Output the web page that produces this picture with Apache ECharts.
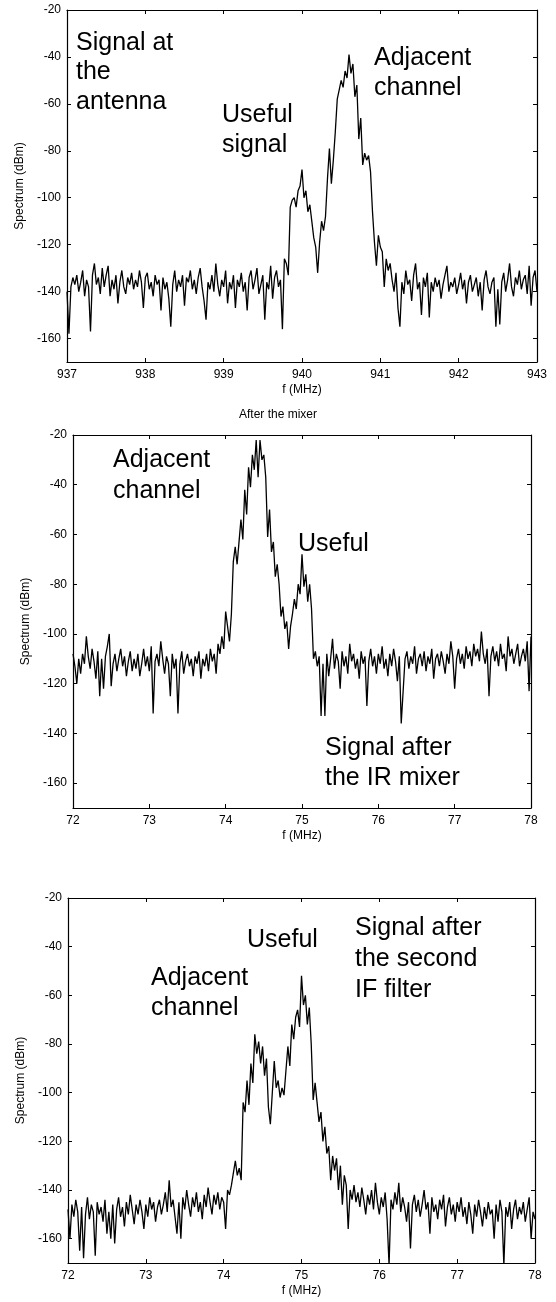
<!DOCTYPE html>
<html><head><meta charset="utf-8">
<script src="https://cdn.jsdelivr.net/npm/echarts@6/dist/echarts.min.js"></script>
<style>html,body{margin:0;padding:0;background:#fff}#c{width:556px;height:1302px}</style>
</head><body><div id="c"></div>
<script>
const FONT = '"Liberation Sans", Arial, Helvetica, sans-serif';

// ---- Panel 1: signal at the antenna (937..943 MHz, 0.025 MHz sampling)
const antennaStartMHz = 937;
const antennaStepMHz = 0.025;
const antennaDbm = [
-140,-158,-138,-134,-137,-133,-140,-136,-131,-142,
-135,-138,-157,-133,-128,-137,-134,-141,-130,-138,
-133,-129,-142,-135,-139,-133,-145,-136,-131,-138,
-141,-134,-137,-132,-139,-135,-138,-131,-136,-147,
-134,-132,-139,-136,-142,-133,-137,-135,-148,-134,
-139,-136,-143,-155,-137,-131,-140,-135,-138,-133,
-146,-134,-136,-131,-139,-135,-141,-134,-130,-138,
-144,-152,-136,-139,-133,-140,-128,-137,-142,-135,
-138,-131,-145,-136,-139,-133,-147,-135,-138,-132,
-140,-136,-148,-134,-131,-139,-135,-130,-141,-137,
-133,-152,-136,-139,-129,-143,-134,-131,-138,-135,
-156,-126,-128,-133,-104,-101,-100,-104,-97,-95,
-88,-100,-97,-106,-103,-110,-117,-121,-132,-119,
-110,-114,-108,-92,-79,-94,-84,-72,-58,-54,
-50,-53,-46,-49,-39,-47,-43,-57,-52,-75,
-66,-86,-81,-84,-82,-89,-106,-119,-129,-116,
-121,-123,-138,-126,-131,-128,-135,-140,-132,-147,
-155,-136,-141,-131,-137,-135,-144,-133,-128,-139,
-136,-150,-134,-138,-132,-151,-136,-140,-134,-138,
-135,-143,-137,-133,-129,-140,-136,-138,-134,-141,
-137,-132,-139,-135,-145,-136,-133,-140,-137,-134,
-142,-136,-148,-135,-131,-138,-141,-136,-134,-155,
-139,-154,-136,-132,-140,-135,-128,-138,-142,-134,
-137,-131,-139,-135,-133,-141,-129,-146,-134,-131,
-140
];

// ---- Panel 2: after the IR mixer (72..78 MHz)
const mixerStartMHz = 72;
const mixerStepMHz = 0.025;
const mixerDbm = [
-108,-113,-120,-110,-116,-108,-112,-101,-109,-114,
-106,-111,-118,-107,-125,-110,-122,-109,-105,-100,
-121,-112,-108,-115,-110,-106,-113,-109,-117,-111,
-107,-115,-110,-114,-108,-117,-112,-106,-113,-109,
-115,-105,-132,-111,-108,-113,-103,-110,-116,-109,
-112,-125,-108,-114,-110,-132,-112,-107,-116,-111,
-108,-113,-110,-117,-109,-112,-107,-118,-110,-113,
-108,-115,-106,-111,-108,-116,-104,-108,-101,-106,
-91,-97,-103,-92,-71,-65,-72,-63,-54,-62,
-42,-52,-33,-41,-28,-34,-22,-37,-22,-30,
-28,-37,-61,-50,-67,-63,-77,-72,-80,-93,
-89,-98,-95,-106,-97,-92,-86,-90,-80,-84,
-68,-81,-76,-87,-80,-90,-110,-107,-113,-109,
-133,-112,-133,-108,-117,-110,-102,-114,-108,-111,
-122,-107,-113,-109,-116,-104,-111,-108,-114,-110,
-118,-107,-112,-109,-129,-111,-106,-113,-109,-116,
-108,-112,-105,-114,-110,-117,-108,-113,-106,-111,
-119,-109,-136,-136,-110,-107,-114,-109,-112,-105,
-116,-110,-108,-113,-107,-115,-109,-112,-106,-118,
-110,-108,-113,-107,-111,-116,-108,-112,-103,-109,
-122,-110,-106,-112,-108,-114,-105,-110,-107,-113,
-104,-109,-106,-111,-99,-108,-112,-106,-125,-109,
-105,-111,-107,-113,-104,-110,-108,-115,-101,-109,
-106,-112,-108,-104,-113,-109,-106,-111,-103,-123,
-101
];

// ---- Panel 3: after the second IF filter (72..78 MHz)
const ifStartMHz = 72;
const ifStepMHz = 0.025;
const ifDbm = [
-148,-160,-146,-151,-144,-149,-165,-147,-168,-150,
-143,-152,-146,-149,-167,-145,-150,-147,-153,-144,
-158,-149,-160,-146,-162,-148,-143,-151,-147,-155,
-145,-150,-142,-148,-154,-146,-150,-144,-149,-156,
-146,-151,-143,-148,-145,-153,-147,-144,-150,-146,
-141,-149,-136,-147,-144,-151,-158,-145,-160,-143,
-148,-140,-146,-151,-143,-147,-141,-149,-145,-152,
-142,-147,-139,-145,-150,-142,-146,-141,-148,-143,
-145,-156,-140,-142,-138,-133,-128,-134,-131,-136,
-104,-108,-95,-105,-88,-96,-76,-84,-79,-88,
-81,-93,-86,-106,-113,-100,-87,-98,-95,-102,
-98,-101,-91,-81,-89,-72,-78,-69,-66,-73,
-52,-64,-60,-72,-65,-80,-103,-96,-104,-112,
-108,-120,-114,-125,-122,-136,-126,-132,-127,-140,
-130,-146,-134,-138,-156,-140,-144,-138,-145,-141,
-147,-139,-144,-150,-142,-146,-140,-148,-137,-145,
-150,-143,-147,-141,-152,-171,-144,-148,-141,-146,
-137,-149,-143,-147,-153,-145,-164,-146,-142,-149,
-144,-151,-146,-140,-148,-145,-158,-143,-149,-146,
-152,-144,-148,-142,-155,-147,-143,-150,-146,-153,
-145,-149,-143,-151,-147,-154,-145,-150,-158,-146,
-151,-144,-149,-155,-147,-152,-145,-150,-148,-160,
-146,-153,-144,-149,-171,-147,-151,-145,-156,-148,
-144,-152,-147,-150,-145,-153,-148,-143,-160,-149,
-152
];

// ---- Axes / labels
const yMin = -170, yMax = -20;
const yTickValues = [-160, -140, -120, -100, -80, -60, -40, -20];
const xRanges = [[937, 943], [72, 78], [72, 78]];
const xAxisTitle = 'f (MHz)';
const yAxisTitle = 'Spectrum (dBm)';
const middleTitle = 'After the mixer';

const panels = [
  { start: antennaStartMHz, step: antennaStepMHz, values: antennaDbm },
  { start: mixerStartMHz, step: mixerStepMHz, values: mixerDbm },
  { start: ifStartMHz, step: ifStepMHz, values: ifDbm }
];

const gridBoxes = [
  { left: 67, top: 10, width: 470, height: 352 },
  { left: 73, top: 435, width: 458, height: 373 },
  { left: 68, top: 898, width: 467, height: 365 }
];
const yNameGaps = [38, 36, 36];

const annotations = [
  { text: 'Signal at\nthe\nantenna', x: 76, y: 28, lh: 29.5 },
  { text: 'Useful\nsignal', x: 222, y: 100, lh: 30 },
  { text: 'Adjacent\nchannel', x: 374, y: 43, lh: 30 },
  { text: 'Adjacent\nchannel', x: 113, y: 445, lh: 30.5 },
  { text: 'Useful', x: 298, y: 529, lh: 30 },
  { text: 'Signal after\nthe IR mixer', x: 325, y: 733, lh: 30 },
  { text: 'Useful', x: 247, y: 925, lh: 30 },
  { text: 'Adjacent\nchannel', x: 151, y: 963, lh: 30 },
  { text: 'Signal after\nthe second\nIF filter', x: 355, y: 913, lh: 30.8 }
];

const black = '#000';
const xAxes = [], yAxes = [], series = [];
gridBoxes.forEach((g, i) => {
  const [xmin, xmax] = xRanges[i];
  const common = {
    type: 'value', gridIndex: i, min: xmin, max: xmax, interval: 1,
    axisLine: { show: true, onZero: false, lineStyle: { color: black, width: 1.2 } },
    axisTick: { show: true, inside: true, length: 4, lineStyle: { color: black, width: 1 } },
    splitLine: { show: false }
  };
  xAxes.push(Object.assign({}, common, {
    position: 'bottom',
    name: xAxisTitle, nameLocation: 'middle', nameGap: 22,
    nameTextStyle: { color: black, fontSize: 12, fontFamily: FONT },
    axisLabel: { color: black, fontSize: 12, fontFamily: FONT, margin: 7 }
  }));
  xAxes.push(Object.assign({}, common, { position: 'top', axisLabel: { show: false } }));

  const ycommon = {
    type: 'value', gridIndex: i, min: yMin, max: yMax,
    axisLine: { show: true, onZero: false, lineStyle: { color: black, width: 1.2 } },
    axisTick: { show: true, inside: true, length: 4, customValues: yTickValues, lineStyle: { color: black, width: 1 } },
    splitLine: { show: false }
  };
  yAxes.push(Object.assign({}, ycommon, {
    position: 'left',
    name: yAxisTitle, nameLocation: 'middle', nameGap: yNameGaps[i], nameRotate: 90,
    nameTextStyle: { color: black, fontSize: 12, fontFamily: FONT },
    axisLabel: { color: black, fontSize: 12, fontFamily: FONT, margin: 6, customValues: yTickValues }
  }));
  yAxes.push(Object.assign({}, ycommon, { position: 'right', axisLabel: { show: false } }));

  const p = panels[i];
  series.push({
    type: 'line', xAxisIndex: 2 * i, yAxisIndex: 2 * i,
    data: p.values.map((v, k) => [+(p.start + k * p.step).toFixed(4), v]),
    showSymbol: false, symbol: 'none', silent: true, clip: true,
    lineStyle: { color: black, width: 1.3 }
  });
});

const graphic = annotations.map(a => ({
  type: 'text', left: a.x, top: a.y, silent: true,
  style: { text: a.text, fill: black, fontSize: 25, fontFamily: FONT, lineHeight: a.lh }
}));
graphic.push({
  type: 'text', left: 'center', top: 409, silent: true,
  style: { text: middleTitle, fill: black, fontSize: 12, fontFamily: FONT }
});

const chart = echarts.init(document.getElementById('c'), null, { renderer: 'canvas' });
chart.setOption({
  animation: false,
  backgroundColor: '#fff',
  grid: gridBoxes.map(g => Object.assign({ containLabel: false }, g)),
  xAxis: xAxes,
  yAxis: yAxes,
  series: series,
  graphic: graphic
});
</script>
</body></html>
